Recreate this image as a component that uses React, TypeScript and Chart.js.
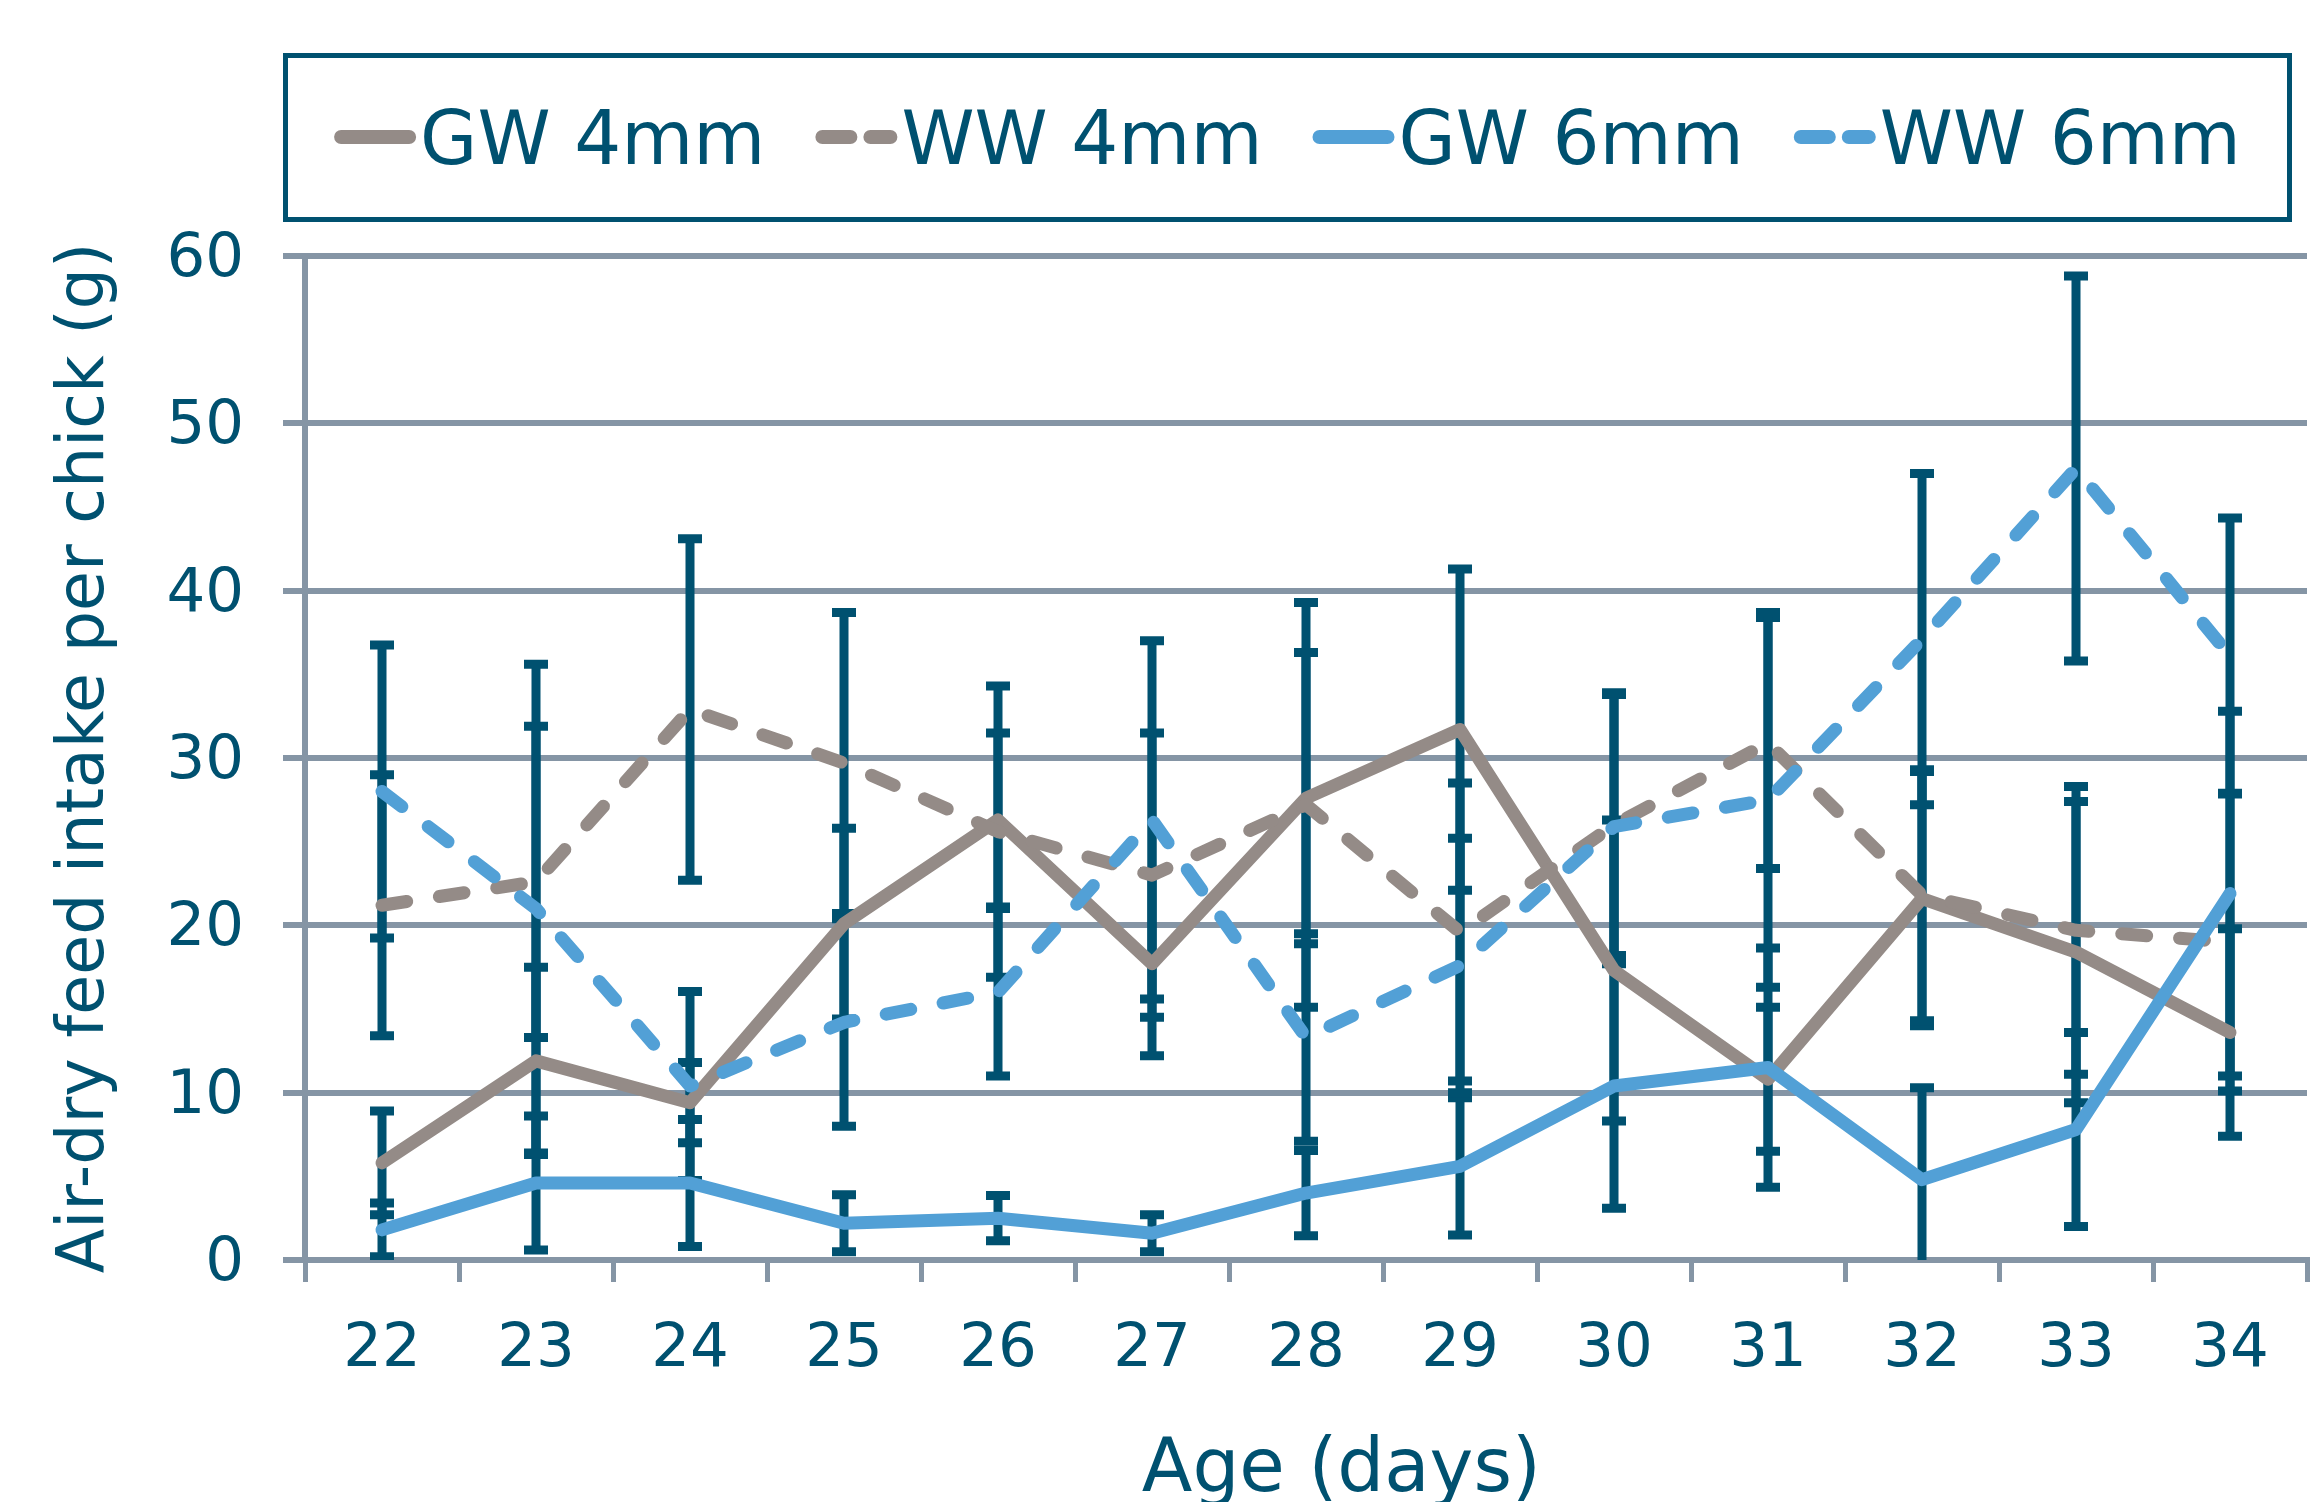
import React, { useEffect, useRef } from "react";
import { Chart, registerables } from "chart.js";

Chart.register(...registerables);

// ---- data ----
const days = ["22", "23", "24", "25", "26", "27", "28", "29", "30", "31", "32", "33", "34"];
const seriesLabels = ["GW 4mm", "WW 4mm", "GW 6mm", "WW 6mm"];

const gw4 = [5.8, 11.9, 9.4, 20.1, 26.3, 17.7, 27.6, 31.7, 17.3, 10.8, 21.6, 18.4, 13.6];
const gw4Err = [3.1, 5.6, 2.4, 5.7, 5.2, 5.5, 8.7, 9.6, 9.0, 4.3, 7.6, 9.0, 6.2];
const ww4 = [21.2, 22.6, 32.9, 29.7, 25.6, 23.0, 27.2, 19.6, 26.0, 30.9, 21.8, 19.7, 19.0];
const ww4Err = [7.8, 9.3, 10.2, 9.0, 8.7, 8.5, 12.1, 8.9, 7.8, 7.5, 7.5, 8.6, 8.9];
const gw6 = [1.8, 4.6, 4.6, 2.2, 2.5, 1.6, 4.0, 5.6, 10.4, 11.5, 4.8, 7.8, 21.9];
const gw6Err = [1.6, 4.0, 3.8, 1.7, 1.35, 1.1, 2.55, 4.1, 7.3, 7.15, 5.5, 5.8, 10.9];
const ww6 = [28.0, 21.0, 10.4, 14.2, 16.0, 26.3, 13.3, 17.6, 25.9, 27.5, 37.1, 47.3, 36.1];
const ww6Err = [8.75, 14.6, 5.65, 6.2, 5.0, 10.7, 6.2, 7.6, 8.0, 11.2, 9.9, 11.5, 8.25];

const seriesValues = [gw4, ww4, gw6, ww6];
const seriesErrors = [gw4Err, ww4Err, gw6Err, ww6Err];

// ---- styles ----
const FONT = '"DejaVu Sans", Verdana, sans-serif';
const TEXT = "#005170";
const GRID = "#8595a5";
const GRAY = "#948b87";
const BLUE = "#52a0d6";
const seriesColors = [GRAY, GRAY, BLUE, BLUE];
const seriesDashes: number[][] = [[], [25, 33], [], [25, 33]];

const errorBarPlugin = {
  id: "errorBars",
  beforeDatasetsDraw(chart: any) {
    const { ctx, chartArea, scales } = chart;
    const xs = scales.x;
    const ys = scales.y;
    ctx.save();
    ctx.beginPath();
    ctx.rect(chartArea.left, chartArea.top, chartArea.right - chartArea.left, chartArea.bottom - chartArea.top);
    ctx.clip();
    ctx.strokeStyle = TEXT;
    ctx.lineCap = "butt";
    chart.data.datasets.forEach((ds: any, di: number) => {
      const errs = seriesErrors[di];
      ds.data.forEach((v: number, i: number) => {
        const px = xs.getPixelForValue(i);
        const top = ys.getPixelForValue(v + errs[i]);
        const bot = ys.getPixelForValue(v - errs[i]);
        ctx.lineWidth = 9;
        ctx.beginPath();
        ctx.moveTo(px, top);
        ctx.lineTo(px, bot);
        ctx.stroke();
        ctx.lineWidth = 9;
        ctx.beginPath();
        ctx.moveTo(px - 12, top);
        ctx.lineTo(px + 12, top);
        ctx.moveTo(px - 12, bot);
        ctx.lineTo(px + 12, bot);
        ctx.stroke();
      });
    });
    ctx.restore();
  },
};

const boxLegendPlugin = {
  id: "boxLegend",
  afterDraw(chart: any) {
    const ctx = chart.ctx;
    ctx.save();
    ctx.lineWidth = 5;
    ctx.strokeStyle = TEXT;
    ctx.setLineDash([]);
    ctx.strokeRect(285.5, 55.5, 2004, 164);
    ctx.font = `74px ${FONT}`;
    const datasets = chart.data.datasets;
    const widths = datasets.map((d: any) => ctx.measureText(d.label).width);
    const gap = 50;
    const total = widths.reduce((a: number, w: number) => a + 86 + w, 0) + gap * (datasets.length - 1);
    let x0 = (285.5 + 2289.5) / 2 - total / 2;
    const cy = 137;
    datasets.forEach((d: any, i: number) => {
      ctx.strokeStyle = d.borderColor;
      ctx.lineWidth = 14;
      ctx.lineCap = "round";
      ctx.setLineDash(d.borderDash && d.borderDash.length ? [28, 20] : []);
      ctx.beginPath();
      ctx.moveTo(x0 + 7, cy);
      ctx.lineTo(x0 + 75, cy);
      ctx.stroke();
      ctx.setLineDash([]);
      ctx.fillStyle = TEXT;
      ctx.textBaseline = "alphabetic";
      ctx.textAlign = "left";
      ctx.fillText(d.label, x0 + 86, 164);
      x0 += 86 + widths[i] + gap;
    });
    ctx.restore();
  },
};

export default function App() {
  const canvasRef = useRef<HTMLCanvasElement | null>(null);

  useEffect(() => {
    if (!canvasRef.current) return;
    const chart = new Chart(canvasRef.current, {
      type: "line",
      data: {
        labels: days,
        datasets: seriesLabels.map((label, i) => ({
          label,
          data: seriesValues[i],
          borderColor: seriesColors[i],
          backgroundColor: seriesColors[i],
          borderWidth: 13,
          borderDash: seriesDashes[i],
          borderCapStyle: "round",
          borderJoinStyle: "round",
          pointRadius: 0,
          pointHoverRadius: 0,
          tension: 0,
          fill: false,
          order: 3 - i,
        })) as any,
      },
      options: {
        responsive: false,
        animation: false,
        devicePixelRatio: 1,
        layout: { padding: { top: 256, right: 4, left: 0, bottom: 0 } },
        plugins: {
          legend: { display: false },
          tooltip: { enabled: false },
        },
        scales: {
          x: {
            type: "category",
            offset: true,
            grid: {
              offset: true,
              drawOnChartArea: false,
              drawTicks: true,
              tickLength: 22,
              color: GRID,
              lineWidth: 5,
            },
            border: { display: true, color: GRID, width: 6 },
            ticks: {
              color: TEXT,
              font: { family: FONT, size: 61 },
              padding: 32,
              maxRotation: 0,
              autoSkip: false,
            },
            title: {
              display: true,
              text: "   Age (days)",
              color: TEXT,
              font: { family: FONT, size: 74, lineHeight: 1 },
              padding: { top: 0, bottom: -7 },
            },
            afterFit: (s: any) => {
              s.height = 242;
            },
          },
          y: {
            min: 0,
            max: 60,
            ticks: {
              stepSize: 10,
              color: TEXT,
              font: { family: FONT, size: 61 },
              padding: 39,
              labelOffset: 4,
            },
            grid: { color: GRID, lineWidth: 6, tickLength: 22, drawTicks: true },
            border: { display: true, color: GRID, width: 6 },
            title: {
              display: true,
              text: "Air-dry feed intake per chick (g)",
              color: TEXT,
              font: { family: FONT, size: 65, lineHeight: 1.2 },
              padding: { top: 47, bottom: 0 },
            },
            afterFit: (s: any) => {
              s.width = 305;
            },
          },
        },
      } as any,
      plugins: [errorBarPlugin, boxLegendPlugin],
    });
    return () => chart.destroy();
  }, []);

  return (
    <div style={{ position: "absolute", left: 0, top: 0, width: 2311, height: 1502, background: "#ffffff" }}>
      <canvas ref={canvasRef} width={2311} height={1502} style={{ width: 2311, height: 1502, display: "block" }} />
    </div>
  );
}
